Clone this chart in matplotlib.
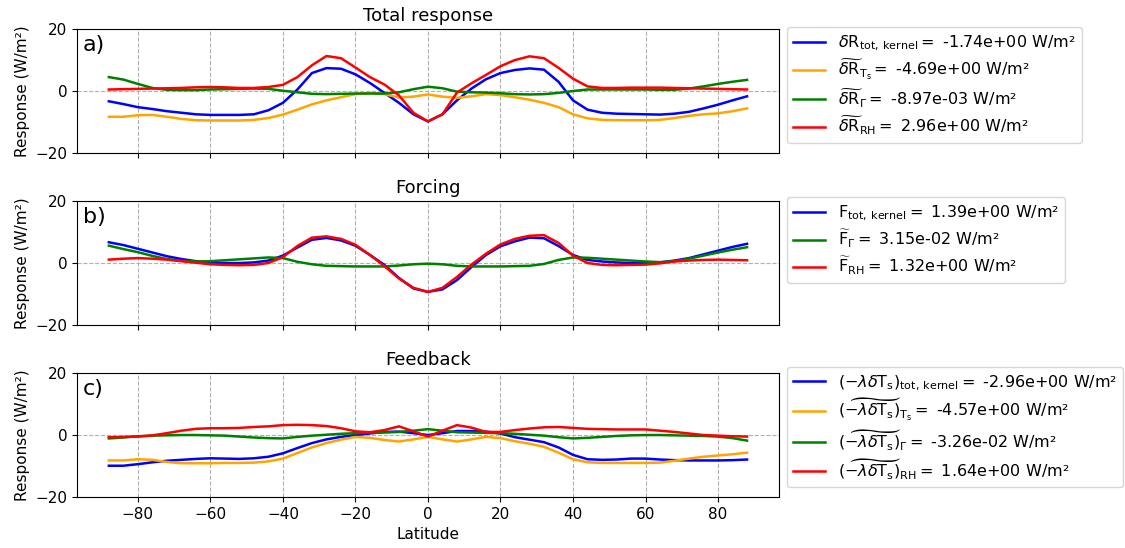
import numpy as np
import matplotlib.pyplot as plt

lat = np.arange(-88, 89, 4)

# panel a: total response
tot_a = [-3.3, -4.2, -5.2, -5.8, -6.5, -7.0, -7.5, -7.7, -7.7, -7.7, -7.5, -6.2, -3.8,
         0.5, 5.8, 7.4, 7.2, 5.4, 2.6, -0.6, -3.8, -7.5, -9.8, -7.5, -3.0, 0.8, 3.8, 5.8,
         6.8, 7.3, 6.9, 3.0, -3.0, -6.0, -7.0, -7.3, -7.4, -7.5, -7.6, -7.3, -6.7, -5.6,
         -4.4, -3.0, -1.7]
ts_a = [-8.3, -8.3, -7.8, -7.7, -8.3, -9.0, -9.4, -9.5, -9.5, -9.5, -9.3, -8.7, -7.6,
        -6.0, -4.3, -3.0, -2.0, -1.0, -0.6, -1.0, -2.1, -1.8, -1.1, -1.8, -2.2, -1.7,
        -1.0, -1.3, -2.0, -2.8, -3.8, -5.2, -7.5, -8.8, -9.3, -9.4, -9.4, -9.4, -9.3,
        -8.7, -8.0, -7.5, -7.2, -6.5, -5.6]
lr_a = [4.5, 3.7, 2.3, 1.0, 0.4, 0.3, 0.3, 0.5, 0.6, 0.7, 0.8, 0.7, 0.1, -0.4, -0.9,
        -1.0, -0.9, -0.8, -0.8, -0.8, -0.4, 0.6, 1.4, 0.9, -0.2, -0.4, -0.5, -0.7, -1.0,
        -1.1, -1.0, -0.6, 0.0, 0.5, 0.5, 0.5, 0.5, 0.5, 0.4, 0.4, 0.8, 1.5, 2.3, 3.0, 3.6]
rh_a = [0.5, 0.6, 0.7, 0.8, 0.9, 1.0, 1.2, 1.3, 1.2, 1.0, 1.0, 1.3, 2.0, 4.5, 8.3, 11.3,
        10.6, 7.6, 4.5, 2.1, -1.4, -7.0, -9.8, -7.5, -0.5, 2.5, 5.2, 8.0, 10.0, 11.2,
        10.6, 7.5, 4.0, 1.5, 1.0, 1.0, 1.1, 1.1, 1.1, 1.0, 0.9, 0.8, 0.7, 0.6, 0.5]

# panel b: forcing
tot_b = [6.7, 5.8, 4.6, 3.4, 2.2, 1.3, 0.6, 0.1, 0.0, 0.0, 0.2, 0.8, 2.4, 5.0, 7.5, 8.1,
         7.3, 5.6, 2.6, -0.6, -4.8, -8.2, -9.3, -8.5, -5.5, -1.3, 2.6, 5.4, 7.0, 8.2,
         8.0, 5.5, 2.6, 1.0, 0.5, 0.2, 0.0, 0.0, 0.2, 0.8, 1.6, 2.8, 4.0, 5.2, 6.2]
lr_b = [5.6, 4.5, 3.5, 2.3, 1.3, 0.7, 0.5, 0.6, 0.9, 1.2, 1.5, 1.8, 1.6, 0.4, -0.4,
        -0.9, -1.0, -1.1, -1.1, -1.1, -0.8, -0.4, -0.2, -0.4, -0.9, -1.1, -1.1, -1.1,
        -1.0, -0.9, -0.3, 1.0, 1.8, 1.7, 1.4, 1.1, 0.8, 0.5, 0.3, 0.6, 1.4, 2.4, 3.4,
        4.3, 5.1]
rh_b = [1.1, 1.4, 1.6, 1.4, 1.1, 0.6, 0.1, -0.4, -0.6, -0.7, -0.6, 0.0, 1.9, 5.5, 8.2,
        8.6, 7.8, 5.9, 2.6, -1.0, -5.0, -8.0, -9.3, -8.0, -4.5, -0.5, 3.0, 6.0, 7.8,
        8.8, 9.0, 6.5, 2.4, 0.0, -0.6, -0.7, -0.6, -0.5, -0.1, 0.5, 0.8, 1.0, 1.1, 1.0,
        0.9]

# panel c: feedback
tot_c = [-9.9, -9.9, -9.4, -8.8, -8.3, -8.0, -7.7, -7.5, -7.6, -7.7, -7.5, -7.0, -5.9,
         -4.2, -2.6, -1.4, -0.6, 0.0, 0.5, 1.0, 1.1, 0.6, 0.0, 0.6, 1.3, 1.3, 1.1, 0.5,
         -0.7, -1.5, -2.3, -4.0, -6.4, -7.8, -8.0, -7.9, -7.6, -7.6, -7.9, -8.1, -8.2,
         -8.2, -8.2, -8.1, -7.9]
ts_c = [-8.2, -8.2, -7.8, -8.0, -8.7, -9.1, -9.1, -9.1, -9.0, -9.0, -8.9, -8.5, -7.6,
        -5.8, -4.0, -2.6, -1.5, -0.6, -0.9, -1.6, -2.1, -1.4, -0.6, -1.4, -2.1, -1.4,
        -0.6, -1.0, -2.0, -2.8, -3.8, -5.7, -7.8, -8.8, -9.0, -9.0, -9.0, -9.0, -8.9,
        -8.3, -7.6, -7.0, -6.6, -6.2, -5.7]
lr_c = [-1.1, -0.8, -0.4, -0.2, -0.1, 0.0, 0.0, -0.1, -0.2, -0.5, -0.8, -1.0, -1.1, -0.6,
        -0.2, 0.1, 0.4, 0.6, 0.8, 0.8, 1.0, 1.4, 1.9, 1.4, 0.9, 0.8, 0.7, 0.6, 0.4, 0.1,
        -0.2, -0.7, -1.1, -0.9, -0.6, -0.3, -0.1, 0.0, 0.0, -0.1, -0.2, -0.3, -0.5, -1.0,
        -1.8]
rh_c = [-0.7, -0.6, -0.5, -0.1, 0.6, 1.4, 2.0, 2.2, 2.2, 2.3, 2.6, 2.8, 3.2, 3.3, 3.2,
        2.9, 2.2, 1.2, 0.9, 1.6, 2.8, 1.2, -0.5, 1.4, 3.2, 2.4, 1.0, 1.0, 1.6, 2.1, 2.5,
        2.6, 2.3, 2.0, 1.9, 1.8, 1.8, 1.8, 1.4, 1.0, 0.5, 0.0, -0.2, -0.4, -0.5]

means_a = [-1.74e+00, -4.69e+00, -8.97e-03, 2.96e+00]
means_b = [1.39e+00, 3.15e-02, 1.32e+00]
means_c = [-2.96e+00, -4.57e+00, -3.26e-02, 1.64e+00]

names_a = [r'$\delta \mathrm{R}_{\mathrm{tot,\,kernel}} = $',
           r'$\widetilde{\delta \mathrm{R}}_{\mathrm{T_s}} = $',
           r'$\widetilde{\delta \mathrm{R}}_{\Gamma} = $',
           r'$\widetilde{\delta \mathrm{R}}_{\mathrm{RH}} = $']
names_b = [r'$\mathrm{F}_{\mathrm{tot,\,kernel}} = $',
           r'$\widetilde{\mathrm{F}}_{\Gamma} = $',
           r'$\widetilde{\mathrm{F}}_{\mathrm{RH}} = $']
names_c = [r'$(-\lambda\delta \mathrm{T_s})_{\mathrm{tot,\,kernel}} = $',
           r'$(\widetilde{-\lambda\delta \mathrm{T_s}})_{\mathrm{T_s}} = $',
           r'$(\widetilde{-\lambda\delta \mathrm{T_s}})_{\Gamma} = $',
           r'$(\widetilde{-\lambda\delta \mathrm{T_s}})_{\mathrm{RH}} = $']

panels = [
    ('Total response', 'a)', [tot_a, ts_a, lr_a, rh_a], ['blue', 'orange', 'green', 'red'], names_a, means_a, 1.015),
    ('Forcing', 'b)', [tot_b, lr_b, rh_b], ['blue', 'green', 'red'], names_b, means_b, 1.03),
    ('Feedback', 'c)', [tot_c, ts_c, lr_c, rh_c], ['blue', 'orange', 'green', 'red'], names_c, means_c, 1.05),
]

plt.rcParams['font.size'] = 11

fig, axes = plt.subplots(3, 1, figsize=(11.25, 5.48), sharex=True)
fig.subplots_adjust(left=0.0684, right=0.6924, top=0.947, bottom=0.093, hspace=0.387)

for ax, (title, tag, series, colors, names, means, ytop) in zip(axes, panels):
    for y, c, nm, m in zip(series, colors, names, means):
        ax.plot(lat, y, color=c, lw=1.8, label=f'{nm} {m:.2e} W/m²')
    ax.set_ylim(-20, 20)
    ax.set_yticks([-20, 0, 20])
    ax.set_xticks(np.arange(-80, 81, 20))
    ax.grid(True, ls='--', color='#b0b0b0')
    ax.set_title(title, fontsize=13)
    ax.set_ylabel('Response (W/m²)')
    ax.text(0.008, 0.95, tag, transform=ax.transAxes, fontsize=16, va='top')
    ax.legend(loc='upper left', bbox_to_anchor=(1.011, ytop), borderaxespad=0,
              fontsize=11.5, labelspacing=0.3)

axes[-1].set_xlabel('Latitude')

fig.savefig('out.png', dpi=100)
